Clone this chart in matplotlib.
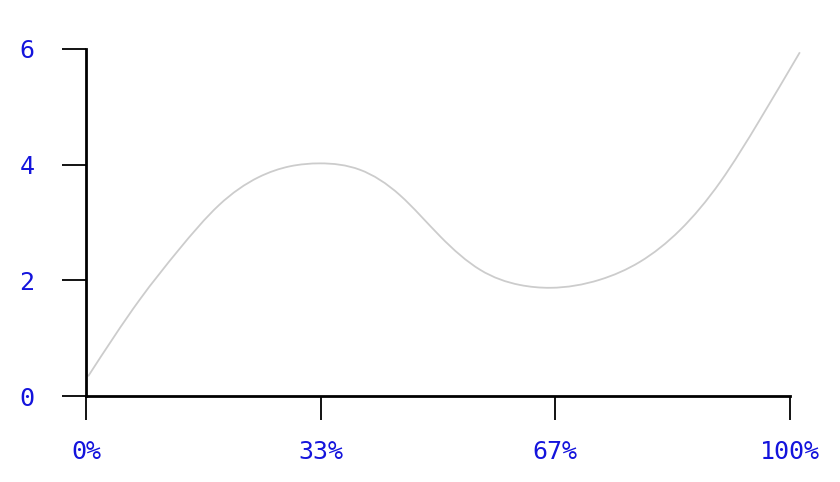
from matplotlib import pyplot as plt
from matplotlib.path import Path
from matplotlib.patches import PathPatch
import numpy as np

# points (x as fraction of the axis, y in data units)
point_x = [0.003, 0.076, 0.132, 0.189, 0.245, 0.290, 0.332,
           0.389, 0.446, 0.503, 0.560, 0.616, 0.660,
           0.730, 0.787, 0.844, 0.901, 0.957, 1.014]
point_y = [0.34, 1.66, 2.53, 3.30, 3.78, 3.97, 4.02,
           3.91, 3.47, 2.76, 2.18, 1.92, 1.87,
           2.01, 2.32, 2.87, 3.70, 4.77, 5.94]

x_ticks = [0, 1 / 3, 2 / 3, 1]
x_tick_labels = ['0%', '33%', '67%', '100%']
y_ticks = [0, 2, 4, 6]
y_tick_labels = ['0', '2', '4', '6']

_LABEL_COLOR = '#1414dc'
_LINE_COLOR = '#cccccc'


def spline_tangents(x, y):
    # slopes of a natural cubic spline through the points
    x = np.asarray(x, float)
    y = np.asarray(y, float)
    n = len(x)
    h = np.diff(x)
    s = np.diff(y) / h
    a = np.zeros((n, n))
    b = np.zeros(n)
    a[0, 0] = a[-1, -1] = 1
    for i in range(1, n - 1):
        a[i, i - 1] = h[i - 1]
        a[i, i] = 2 * (h[i - 1] + h[i])
        a[i, i + 1] = h[i]
        b[i] = 6 * (s[i] - s[i - 1])
    m = np.linalg.solve(a, b)
    t = np.zeros(n)
    t[:-1] = s - h * (2 * m[:-1] + m[1:]) / 6
    t[-1] = s[-1] + h[-1] * (m[-2] + 2 * m[-1]) / 6
    return t


def curve_path(x, y):
    t = spline_tangents(x, y)
    verts = [(x[0], y[0])]
    codes = [Path.MOVETO]
    for i in range(len(x) - 1):
        dx = (x[i + 1] - x[i]) / 3
        verts += [(x[i] + dx, y[i] + dx * t[i]),
                  (x[i + 1] - dx, y[i + 1] - dx * t[i + 1]),
                  (x[i + 1], y[i + 1])]
        codes += [Path.CURVE4] * 3
    return Path(verts, codes)


def plot_chart():
    fig = plt.figure(figsize=(8.4, 4.82), dpi=100)
    ax = fig.add_axes([86 / 840, 86 / 482, 704 / 840, (396.5 - 49.3) / 482])

    patch = PathPatch(curve_path(point_x, point_y), facecolor='none',
                      edgecolor=_LINE_COLOR, linewidth=1.3, clip_on=False)
    ax.add_patch(patch)

    ax.set_xlim(0, 1)
    ax.set_ylim(0, 6)
    ax.set_xticks(x_ticks)
    ax.set_xticklabels(x_tick_labels)
    ax.set_yticks(y_ticks)
    ax.set_yticklabels(y_tick_labels)

    for side in ('top', 'right'):
        ax.spines[side].set_visible(False)
    for side in ('left', 'bottom'):
        ax.spines[side].set_linewidth(2)
        ax.spines[side].set_color('black')

    ax.tick_params(axis='both', direction='out', length=17, width=1.3,
                   color='black', labelcolor=_LABEL_COLOR, labelsize=18)
    ax.tick_params(axis='x', pad=15)
    ax.tick_params(axis='y', pad=20)
    for label in ax.get_xticklabels() + ax.get_yticklabels():
        label.set_family('DejaVu Sans Mono')

    ax.patch.set_alpha(0)
    fig.savefig('out.png', dpi=100, transparent=True)


if __name__ == '__main__':
    plot_chart()
